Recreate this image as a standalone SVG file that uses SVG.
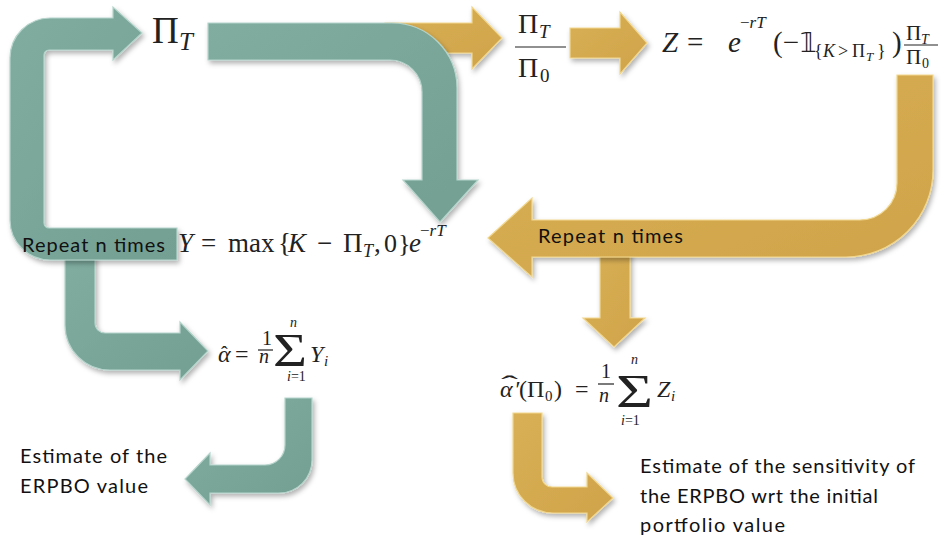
<svg xmlns="http://www.w3.org/2000/svg" width="941" height="539" viewBox="0 0 941 539">
<defs>
<filter id="sh" x="-20%" y="-20%" width="140%" height="140%">
<feDropShadow dx="2" dy="3" stdDeviation="2.5" flood-color="#000" flood-opacity="0.3"/>
</filter>
<linearGradient id="tealG" x1="0" y1="0" x2="1" y2="1">
<stop offset="0" stop-color="#80ada0"/><stop offset="1" stop-color="#739f93"/>
</linearGradient>
<linearGradient id="goldG" x1="0" y1="0" x2="1" y2="1">
<stop offset="0" stop-color="#d9b055"/><stop offset="1" stop-color="#cfa34a"/>
</linearGradient>
</defs>
<style>
.teal{fill:url(#tealG);stroke:#b5d4cb;stroke-width:1.2;filter:url(#sh)}
.gold{fill:url(#goldG);stroke:#f1d78e;stroke-width:1.2;filter:url(#sh)}
.m{font-family:"Liberation Serif","DejaVu Serif",serif;fill:#222}
.i{font-style:italic}
.lbl{font-family:Lato,"Liberation Sans",sans-serif;font-size:20px;fill:#111}
.bar{stroke:#222;stroke-width:1.2}
</style>
<g id="connectors">
<path id="gold1" class="gold" d="M385 23 L472 23 L472 7 L502 38 L472 69 L472 53 L385 53 Z"/>
<path id="teal2" class="teal" d="M208 23 L392 23 A65 65 0 0 1 457 88 L457 180 L478 180 L440 222 L403 180 L422 180 L422 92 A32 32 0 0 0 390 60 L208 60 Z"/>
<path id="gold2" class="gold" d="M570 28 L620 28 L620 12 L647 43 L620 74 L620 58 L570 58 Z"/>
<path id="gold4" class="gold" d="M600 250 L630 250 L630 318 L645 318 L614 347 L583 318 L600 318 Z"/>
<path id="gold3" class="gold" d="M897 75 L933 75 L933 170 A87 87 0 0 1 846 257 L532 257 L532 277 L488 238 L532 198 L532 220 L860 220 A37 37 0 0 0 897 183 Z"/>
<path id="teal3" class="teal" d="M65 255 L95 255 L95 323 A10 10 0 0 0 105 333 L180 333 L180 322 L208 351 L180 380 L180 370 L110 370 A45 45 0 0 1 65 325 Z"/>
<path id="teal1" class="teal" d="M142 33 L113 7 L113 18 L50 18 A40 40 0 0 0 10 58 L10 220 A40 40 0 0 0 50 260 L177 260 L177 228 L49 228 A5 5 0 0 1 44 223 L44 55 A5 5 0 0 1 49 50 L113 50 L113 60 Z"/>
<path id="gold5" class="gold" d="M513 413 L542 413 L542 477 A10 10 0 0 0 552 487 L587 487 L587 473 L613 498 L587 522 L587 513 L553 513 A40 40 0 0 1 513 473 Z"/>
<path id="teal5" class="teal" d="M285 398 L312 398 L312 460 A33 33 0 0 1 279 493 L210 493 L210 505 L185 479 L210 453 L210 465 L265 465 A20 20 0 0 0 285 445 Z"/>
</g>
<g id="node-piT" class="m">
<text x="152" y="43" font-size="37">Π</text>
<text x="179" y="50" font-size="25" class="i">T</text>
</g>
<g id="node-ratio" class="m">
<text x="518" y="33" font-size="28">Π</text>
<text x="539" y="38" font-size="19" class="i">T</text>
<line class="bar" x1="515" y1="47" x2="566" y2="47"/>
<text x="518" y="77" font-size="28">Π</text>
<text x="540" y="82" font-size="19">0</text>
</g>
<g id="node-Z" class="m">
<text x="662" y="52" font-size="29" class="i">Z</text>
<text x="687" y="52" font-size="29">=</text>
<text x="728" y="52" font-size="29" class="i">e</text>
<text x="740" y="28" font-size="17">−<tspan class="i">rT</tspan></text>
<text x="773" y="52" font-size="29">(−</text>
<text x="800" y="52" font-size="26" font-family="DejaVu Sans,sans-serif">𝟙</text>
<text x="814" y="57" font-size="18">{</text>
<text x="823" y="57" font-size="18" class="i">K</text>
<text x="838" y="57" font-size="18">&gt;</text>
<text x="852" y="57" font-size="18">Π</text>
<text x="866" y="61" font-size="13" class="i">T</text>
<text x="877" y="57" font-size="18">}</text>
<text x="892" y="52" font-size="29">)</text>
<text x="906" y="40" font-size="21">Π</text>
<text x="921" y="44" font-size="14" class="i">T</text>
<line class="bar" x1="904" y1="45" x2="938" y2="45"/>
<text x="906" y="64" font-size="21">Π</text>
<text x="922" y="68" font-size="14">0</text>
</g>
<g id="node-Y" class="m">
<text x="178" y="252" font-size="27" class="i">Y</text>
<text x="201" y="252" font-size="27">=</text>
<text x="228" y="252" font-size="27">max</text>
<text x="278" y="252" font-size="27">{</text>
<text x="288" y="252" font-size="27" class="i">K</text>
<text x="317" y="252" font-size="27">−</text>
<text x="343" y="252" font-size="27">Π</text>
<text x="363" y="257" font-size="18" class="i">T</text>
<text x="374" y="252" font-size="27">,</text>
<text x="384" y="252" font-size="26">0</text>
<text x="398" y="252" font-size="26">}</text>
<text x="409" y="252" font-size="27" class="i">e</text>
<text x="420" y="236" font-size="17">−<tspan class="i">rT</tspan></text>
</g>
<g id="node-alpha" class="m">
<text x="218" y="362" font-size="24" class="i">α</text>
<text x="221" y="361" font-size="20">ˆ</text>
<text x="235" y="362" font-size="24">=</text>
<text x="262" y="345" font-size="20">1</text>
<line class="bar" x1="258" y1="350" x2="273" y2="350"/>
<text x="259" y="363" font-size="20" class="i">n</text>
<text x="273" y="366" font-size="46" textLength="34" lengthAdjust="spacingAndGlyphs">Σ</text>
<text x="290" y="327" font-size="14" class="i">n</text>
<text x="287" y="381" font-size="14"><tspan class="i">i</tspan>=1</text>
<text x="310" y="362" font-size="24" class="i">Y</text>
<text x="324" y="366" font-size="15" class="i">i</text>
</g>
<g id="node-alphaprime" class="m">
<text x="500" y="397" font-size="24" class="i">α</text>
<text x="501" y="392" font-size="24" textLength="17" lengthAdjust="spacingAndGlyphs">ˆ</text>
<text x="514" y="397" font-size="24" class="i">′</text>
<text x="519" y="397" font-size="24">(</text>
<text x="527" y="397" font-size="24">Π</text>
<text x="545" y="401" font-size="15">0</text>
<text x="554" y="397" font-size="24">)</text>
<text x="575" y="397" font-size="24">=</text>
<text x="601" y="378" font-size="20">1</text>
<line class="bar" x1="598" y1="384" x2="614" y2="384"/>
<text x="599" y="402" font-size="20" class="i">n</text>
<text x="616" y="407" font-size="46" textLength="37" lengthAdjust="spacingAndGlyphs">Σ</text>
<text x="631" y="364" font-size="14" class="i">n</text>
<text x="621" y="425" font-size="14"><tspan class="i">i</tspan>=1</text>
<text x="657" y="397" font-size="24" class="i">Z</text>
<text x="671" y="401" font-size="15" class="i">i</text>
</g>
<g id="node-repeat-teal"><text class="lbl" x="22" y="252" textLength="143">Repeat n times</text></g>
<g id="node-repeat-gold"><text class="lbl" x="538" y="243" textLength="145">Repeat n times</text></g>
<g id="node-est-value">
<text class="lbl" x="20" y="463" textLength="147">Estimate of the</text>
<text class="lbl" x="20" y="493" textLength="128">ERPBO value</text>
</g>
<g id="node-est-sens">
<text class="lbl" x="640" y="473" textLength="275">Estimate of the sensitivity of</text>
<text class="lbl" x="640" y="503" textLength="238">the ERPBO wrt the initial</text>
<text class="lbl" x="640" y="532" textLength="145">portfolio value</text>
</g>
</svg>
